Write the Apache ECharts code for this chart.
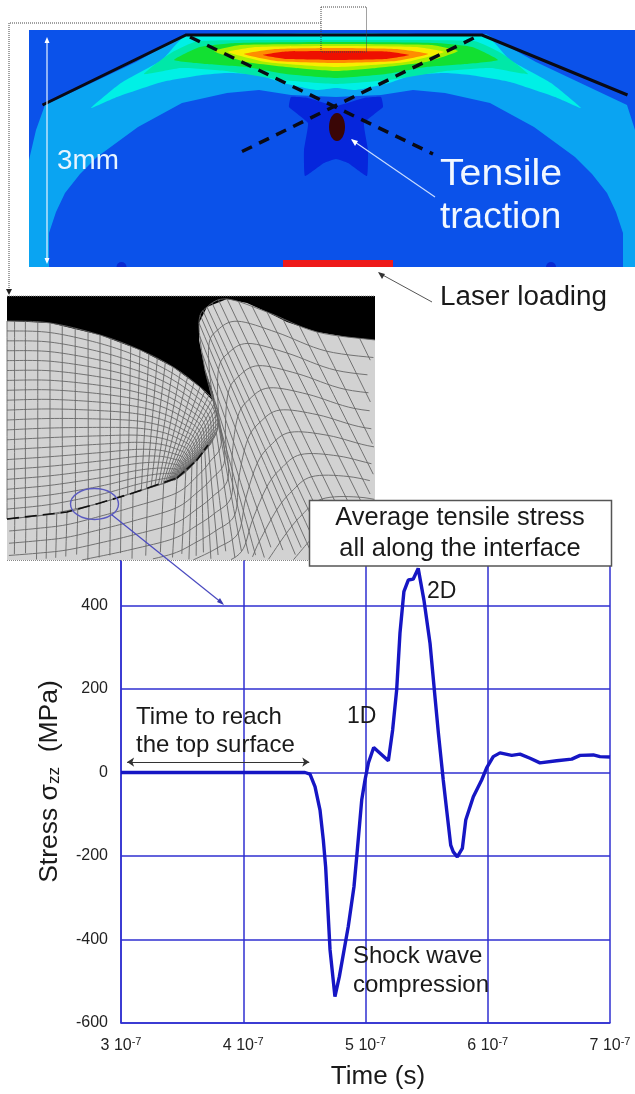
<!DOCTYPE html>
<html>
<head>
<meta charset="utf-8">
<title>Average tensile stress</title>
<style>
  html, body { margin: 0; padding: 0; background: #fff; }
  #main { width: 635px; height: 1094px; }
</style>
<script src="https://cdn.jsdelivr.net/npm/echarts@6/dist/echarts.min.js"></script>
</head>
<body>
<div id="main"></div>
<script>
// time in units of 1e-7 s, stress in MPa, both
var timeValues = [3.0, 3.5, 4.0, 4.505, 4.546, 4.587, 4.628, 4.655, 4.674, 4.71, 4.75, 4.786, 4.859, 4.906, 4.933, 4.969, 4.996, 5.023, 5.067, 5.187, 5.222, 5.255, 5.282, 5.314, 5.35, 5.39, 5.431, 5.478, 5.528, 5.563, 5.596, 5.636, 5.664, 5.697, 5.718, 5.751, 5.792, 5.82, 5.882, 5.95, 5.991, 6.045, 6.1, 6.196, 6.264, 6.346, 6.427, 6.564, 6.687, 6.755, 6.864, 6.918, 7.0];
var stressValues = [0, 0, 0, 0, -4, -34, -90, -162, -226, -425, -537, -489, -369, -273, -186, -66, -18, 22, 60, 28, 102, 198, 334, 433, 461, 463, 489, 413, 309, 198, 95, -18, -90, -174, -190, -202, -182, -114, -58, -18, 11, 38, 47, 41, 44, 34, 23, 28, 32, 41, 42, 38, 37];
var xTickLabels = { 3: '3 10', 4: '4 10', 5: '5 10', 6: '6 10', 7: '7 10' };
var yTickLabels = [-600, -400, -200, 0, 200, 400];

var gridBlue = '#2f2fd0';
var curveBlue = '#1616c4';
var font = '"Liberation Sans", Arial, sans-serif';
var graphics = [];

function add(el, z) {
    el.z = z;
    el.silent = true;
    graphics.push(el);
}
function poly(points, fill, z, smooth) {
    add({ type: 'polygon', shape: { points: points, smooth: smooth || 0 }, style: { fill: fill } }, z);
}
function line(points, stroke, width, z, dash) {
    add({
        type: 'polyline',
        shape: { points: points },
        style: { stroke: stroke, lineWidth: width, fill: null, lineDash: dash || null }
    }, z);
}
function label(text, x, y, size, color, z, scaleX, align) {
    add({
        type: 'text',
        x: x,
        y: y,
        scaleX: scaleX || 1,
        style: {
            text: text,
            fontFamily: font,
            fontSize: size,
            fill: color,
            align: align || 'left',
            verticalAlign: 'middle'
        }
    }, z);
}
// half profile (distance from the axis of the specimen, y) mirrored around x = 336
function sym(half) {
    var pts = [];
    var i;
    for (i = 0; i < half.length; i++) pts.push([336 - half[i][0], half[i][1]]);
    for (i = half.length - 1; i >= 0; i--) {
        if (half[i][0] > 0) pts.push([336 + half[i][0], half[i][1]]);
    }
    return pts;
}

// ---- top picture: contour plot ----
var clipRight = 635;
function clipX(pts) {
    return pts.map(function (p) { return [Math.min(p[0], clipRight), p[1]]; });
}
add({ type: 'rect', shape: { x: 29, y: 30, width: 606, height: 237 }, style: { fill: '#0b52ea' } }, 20);
poly(clipX(sym([[150, 34], [200, 62], [291, 105], [300, 130], [307, 160], [307, 267], [287, 267], [287, 233], [280, 212], [271, 193], [256, 174], [239, 157], [198, 127], [154, 103], [109, 93], [77, 90], [45, 95], [0, 97]])), '#0aa4f2', 21);
poly(sym([[150, 36], [174, 60], [215, 83], [245, 108], [219, 97], [174, 82], [134, 75], [109, 73], [77, 75], [53, 83], [20, 90], [0, 88]]), '#00f0e6', 22, 0.15);
poly(sym([[0, 40], [138, 41], [165, 53], [192, 74], [155, 68], [110, 71], [53, 80], [0, 84]]), '#00e8a8', 23, 0.15);
poly(sym([[0, 42], [100, 43], [136, 47], [162, 60], [130, 64], [90, 67], [50, 74], [0, 78]]), '#12e032', 24, 0.15);
poly(sym([[0, 44], [95, 45], [122, 51], [90, 62], [40, 68], [0, 71]]), '#a6f000', 25, 0.15);
poly(sym([[0, 46], [80, 47], [108, 52], [70, 62], [0, 67]]), '#f8ee00', 26, 0.15);
poly(sym([[0, 48], [60, 49], [92, 54], [60, 61], [0, 63]]), '#ff8c00', 27, 0.15);
poly(sym([[0, 51], [50, 51.5], [73, 55], [50, 59], [0, 60]]), '#ee1000', 28, 0.15);
poly(sym([[0, 106], [28, 98], [45, 97], [47, 107], [28, 123], [32, 150], [31, 176], [12, 163], [0, 159]]), '#0626dc', 29, 0.1);
add({ type: 'ellipse', shape: { cx: 337, cy: 127, rx: 8, ry: 14 }, style: { fill: '#3a0606' } }, 30);
add({ type: 'rect', shape: { x: 283, y: 260, width: 110, height: 7 }, style: { fill: '#ee1a1a' } }, 30);
add({ type: 'arc', shape: { cx: 121.5, cy: 267, r: 5, startAngle: Math.PI, endAngle: 2 * Math.PI }, style: { fill: '#0a2ad0', stroke: null } }, 30);
add({ type: 'arc', shape: { cx: 551, cy: 267, r: 5, startAngle: Math.PI, endAngle: 2 * Math.PI }, style: { fill: '#0a2ad0', stroke: null } }, 30);

line([[42.5, 105], [186, 35], [482, 35], [627.5, 95]], '#0a0a14', 3, 31);
line([[190, 37], [433, 154]], '#0a0a14', 3.5, 31, [11, 8]);
line([[473.7, 38], [237, 154]], '#0a0a14', 3.5, 31, [11, 8]);

// white size arrow and leader
line([[47, 40], [47, 262]], '#e8f4ff', 1.2, 31);
poly([[47, 37], [44.5, 43], [49.5, 43]], '#ffffff', 31);
poly([[47, 264], [44.5, 258], [49.5, 258]], '#ffffff', 31);
line([[352, 140], [435, 197]], '#c8dcff', 1.2, 31);
poly([[351, 139], [358, 141], [355, 146]], '#ffffff', 31);
label('3mm', 57, 162, 27, '#e8f4ff', 32, 1.03);
label('Tensile', 440, 175, 37, '#f2f8ff', 32, 1.06);
label('traction', 440, 218, 37, '#f2f8ff', 32, 1);

// dotted zoom window and its link to the mesh
line([[321, 7], [366.5, 7], [366.5, 52], [321, 52], [321, 7]], '#444', 1, 33, [1, 1]);
line([[321, 23], [9, 23], [9, 290]], '#444', 1, 33, [1, 1]);
poly([[9, 295], [6, 289], [12, 289]], '#222', 33);

// laser arrow
line([[379, 273], [432, 302]], '#555', 1, 33);
poly([[378, 272], [385, 274], [382, 279]], '#333', 33);
label('Laser loading', 440, 298, 27, '#1a1a1a', 33, 1.03);

// ---- middle picture: mesh ----
var meshX0 = 7, meshX1 = 375, meshY0 = 296, meshY1 = 560;
var surfaceLeft = [[7, 321], [50, 323], [100, 335], [140, 350], [173, 367], [200, 387], [215, 403], [218, 423], [213, 440], [203, 453], [190, 467], [177, 478]];
var interfaceLeft = [[7, 519], [50, 514], [100, 503], [135, 492], [155, 486], [165, 483], [170, 481], [172, 480.5], [174, 480], [175, 479.5], [176, 479], [177, 478]];
var surfaceRight = [[218, 423], [213, 393], [205, 370], [199, 340], [199, 323], [207, 307], [227, 299], [247, 303], [267, 312], [287, 322], [317, 332], [347, 337], [375, 340]];
var chainTop = [[7, 519], [37, 516], [67, 512], [100, 503], [133, 493], [177, 478], [197, 460], [208, 445], [218, 423], [205, 370], [199, 323], [207, 307], [227, 299], [267, 312], [317, 332], [375, 340]];
var chainLow = [[5, 690], [35, 690], [62, 690], [97, 690], [130, 690], [165, 690], [195, 690], [230, 685], [265, 680], [300, 670], [335, 650], [355, 630], [375, 610], [410, 600], [450, 600], [500, 600]];

function pointAt(pts, u) {
    // Catmull-Rom along the knots
    var n = pts.length - 1;
    var f = Math.min(u, 0.99999) * n;
    var i = Math.floor(f);
    var t = f - i;
    var p0 = pts[Math.max(i - 1, 0)], p1 = pts[i], p2 = pts[i + 1], p3 = pts[Math.min(i + 2, n)];
    function c(k) {
        return 0.5 * (2 * p1[k] + (p2[k] - p0[k]) * t + (2 * p0[k] - 5 * p1[k] + 4 * p2[k] - p3[k]) * t * t + (3 * p1[k] - p0[k] - 3 * p2[k] + p3[k]) * t * t * t);
    }
    return [c(0), c(1)];
}
function inMesh(p) {
    return p[0] >= meshX0 && p[0] <= meshX1 && p[1] >= meshY0 && p[1] <= meshY1;
}
function addMesh(A, B, nu, nv) {
    function stroke(get, count) {
        var run = [];
        for (var s = 0; s <= count; s++) {
            var p = get(s / count);
            if (inMesh(p)) {
                run.push(p);
            } else {
                if (run.length > 1) line(run, '#666', 0.9, 42);
                run = [];
            }
        }
        if (run.length > 1) line(run, '#666', 0.9, 42);
    }
    function at(u, v) {
        var a = pointAt(A, u), b = pointAt(B, u);
        return [a[0] + (b[0] - a[0]) * v, a[1] + (b[1] - a[1]) * v];
    }
    var i;
    for (i = 0; i <= nu; i++) {
        (function (u) { stroke(function (t) { return at(u, t); }, 24); })(i / nu);
    }
    for (i = 0; i <= nv; i++) {
        (function (v) { stroke(function (t) { return at(t, v); }, 120); })(i / nv);
    }
}

add({ type: 'rect', shape: { x: meshX0, y: meshY0, width: meshX1 - meshX0, height: meshY1 - meshY0 }, style: { fill: '#000' } }, 40);
poly(surfaceLeft.slice(0, 8).concat(surfaceRight).concat([[375, 560], [7, 560]]), '#d2d2d2', 41);
addMesh(surfaceLeft, interfaceLeft, 44, 20);
addMesh(chainTop, chainLow, 45, 14);
line([[7, 519], [67, 512], [100, 503], [133, 493], [177, 478]], '#111', 1.6, 43, [12, 6]);
line([[177, 478], [197, 460], [208, 445]], '#111', 1.8, 43, [10, 3]);
line([[7, 296], [375, 296]], '#999', 1, 43, [1, 1]);
line([[7, 560.5], [375, 560.5]], '#888', 1, 43, [1, 1]);
add({ type: 'ellipse', shape: { cx: 94.5, cy: 504, rx: 24, ry: 15.5 }, style: { stroke: '#5a5ac0', lineWidth: 1.4, fill: null } }, 44);
line([[112, 515], [222, 603]], '#4a4ac0', 1.2, 44);
poly([[224, 605], [217, 602], [220, 598]], '#3a3ab0', 44);

// ---- notes on the chart ----
add({ type: 'rect', shape: { x: 309.5, y: 500.5, width: 302, height: 65.5 }, style: { fill: '#fff', stroke: '#555', lineWidth: 1.5 } }, 50);
label('Average tensile stress', 460, 518, 25.4, '#1a1a1a', 51, 1, 'center');
label('all along the interface', 460, 549, 25.4, '#1a1a1a', 51, 1, 'center');
label('Time to reach', 136, 717, 24, '#1a1a1a', 51);
label('the top surface', 136, 745, 24, '#1a1a1a', 51);
label('1D', 347, 717, 23, '#1a1a1a', 51);
label('2D', 427, 592, 23, '#1a1a1a', 51);
label('Shock wave', 353, 956, 24, '#1a1a1a', 51);
label('compression', 353, 985, 24, '#1a1a1a', 51);

var option = {
    animation: false,
    backgroundColor: '#fff',
    graphic: { elements: graphics },
    grid: { left: 121, right: 25, top: 522, bottom: 71 },
    xAxis: {
        type: 'value',
        min: 3,
        max: 7,
        interval: 1,
        name: 'Time (s)',
        nameLocation: 'middle',
        nameGap: 41,
        nameTextStyle: { fontFamily: font, fontSize: 26, color: '#1a1a1a', padding: [0, 0, 0, 25] },
        axisLine: { onZero: false, lineStyle: { color: gridBlue, width: 1.5 } },
        axisTick: { show: false },
        splitLine: { lineStyle: { color: gridBlue, width: 1.5 } },
        axisLabel: {
            margin: 13,
            formatter: function (v) { return '{n|' + xTickLabels[v] + '}{e|-7}'; },
            rich: {
                n: { fontFamily: font, fontSize: 16, color: '#222' },
                e: { fontFamily: font, fontSize: 11, color: '#222', padding: [0, 0, 9, 0] }
            }
        }
    },
    yAxis: {
        type: 'value',
        min: -600,
        max: 600,
        interval: 200,
        name: '{a|Stress σ}{b|zz}{a|  (MPa)}',
        nameLocation: 'middle',
        nameGap: 58,
        nameRotate: 90,
        nameTextStyle: {
            padding: [0, 18, 0, 0],
            rich: {
                a: { fontFamily: font, fontSize: 26.5, color: '#1a1a1a' },
                b: { fontFamily: font, fontSize: 17, color: '#1a1a1a', padding: [9, 0, 0, 0] }
            }
        },
        axisLine: { lineStyle: { color: gridBlue, width: 1.5 } },
        axisTick: { show: false },
        splitLine: { lineStyle: { color: gridBlue, width: 1.5 } },
        axisLabel: {
            margin: 13,
            fontFamily: font,
            fontSize: 16,
            color: '#222',
            formatter: function (v) { return yTickLabels.indexOf(v) >= 0 ? String(v) : ''; }
        }
    },
    series: [{
        type: 'line',
        data: timeValues.map(function (t, i) { return [t, stressValues[i]]; }),
        showSymbol: false,
        clip: false,
        lineStyle: { color: curveBlue, width: 3.4 },
        z: 5,
        markLine: {
            silent: true,
            symbol: ['arrow', 'arrow'],
            symbolSize: 7,
            label: { show: false },
            lineStyle: { color: '#333', width: 1, type: 'solid' },
            data: [[{ coord: [3.05, 25] }, { coord: [4.54, 25] }]]
        }
    }]
};

var myChart = echarts.init(document.getElementById('main'));
myChart.setOption(option);
</script>
</body>
</html>
